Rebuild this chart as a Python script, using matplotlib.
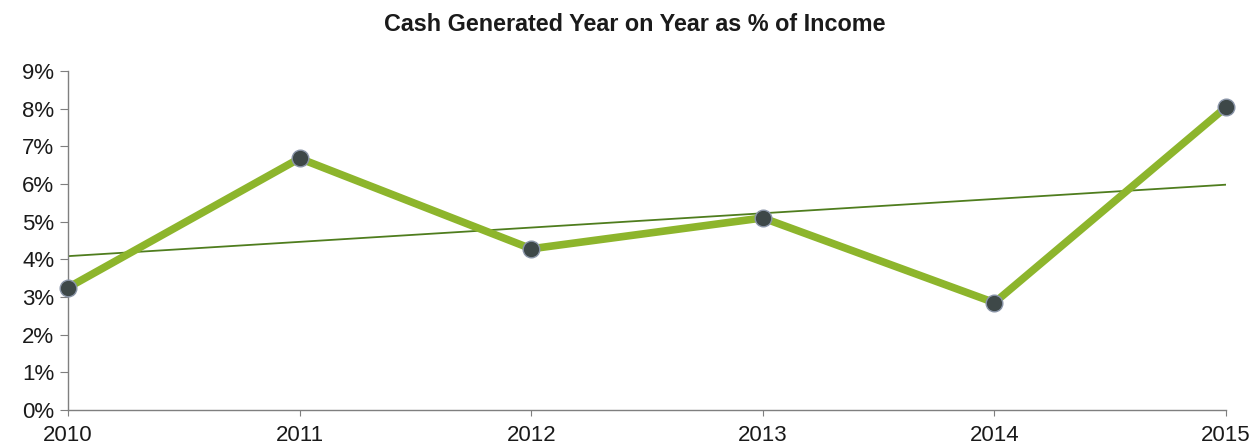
import matplotlib.pyplot as plt
import numpy as np
from matplotlib.ticker import PercentFormatter

# datos
years = [2010, 2011, 2012, 2013, 2014, 2015]
cash_pct = [3.25, 6.68, 4.28, 5.1, 2.85, 8.04]

plt.rcParams['font.family'] = ['Liberation Sans', 'DejaVu Sans']

fig = plt.figure(figsize=(12.55, 4.46), dpi=100)
ax = fig.add_axes([0.0542, 0.0807, 0.9227, 0.7601])

# linea principal
ax.plot(years, cash_pct, color='#8db52c', lw=5.5, solid_capstyle='round', zorder=2, clip_on=False)
ax.plot(years, cash_pct, 'o', ms=12, color='#3e4848', mec='#8a95a8', mew=1.0, zorder=3, clip_on=False)

# linea de tendencia
coef = np.polyfit(years, cash_pct, 1)
trend = np.polyval(coef, years)
ax.plot(years, trend, color='#4f7d1e', lw=1.3, zorder=1)

ax.set_xlim(2010, 2015)
ax.set_ylim(0, 9)
ax.set_yticks(range(0, 10))
ax.yaxis.set_major_formatter(PercentFormatter(decimals=0))
ax.set_xticks(years)

for s in ['top', 'right']:
    ax.spines[s].set_visible(False)
for s in ['left', 'bottom']:
    ax.spines[s].set_color('#7f7f7f')
    ax.spines[s].set_linewidth(1.0)
ax.tick_params(axis='both', colors='#7f7f7f', labelcolor='#1a1a1a', labelsize=16)
ax.tick_params(axis='y', length=6, pad=4)
ax.tick_params(axis='x', length=4, pad=7)

# titulo
fig.text(0.506, 0.944, 'Cash Generated Year on Year as % of Income', fontsize=16.8,
         fontweight='bold', color='#1a1a1a', ha='center', va='center')

plt.savefig('out.png', dpi=100)
